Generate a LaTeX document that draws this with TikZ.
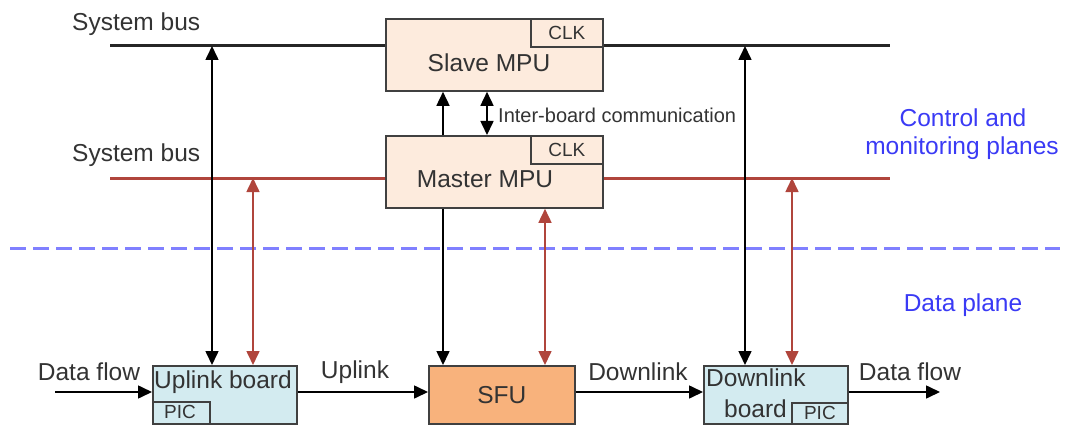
\documentclass[tikz,border=0pt]{standalone}
\usepackage{fontspec}
\setmainfont{Liberation Sans}
\usetikzlibrary{arrows.meta,calc}
\definecolor{txt}{HTML}{333333}
\definecolor{bord}{HTML}{404040}
\definecolor{peach}{HTML}{FDEBDD}
\definecolor{cyanb}{HTML}{D3EBF0}
\definecolor{sfuc}{HTML}{F8B27C}
\definecolor{busred}{HTML}{B0453C}
\definecolor{planeblue}{HTML}{3A3AF5}
\definecolor{dashblue}{HTML}{8080FF}
\begin{document}
\begin{tikzpicture}[x=1pt,y=-1pt,
  big/.style={font=\fontsize{24.5}{28}\selectfont, text=txt, inner sep=0pt},
  mid/.style={font=\fontsize{20}{23}\selectfont, text=txt, inner sep=0pt},
  small/.style={font=\fontsize{19}{22}\selectfont, text=txt, inner sep=0pt},
  bluetxt/.style={font=\fontsize{24.5}{28}\selectfont, text=planeblue, inner sep=0pt},
  box/.style={draw=bord, line width=1.8pt, inner sep=0pt, anchor=north west},
  onetip/.style={line width=1.6pt, -{Triangle[length=14pt,width=13pt]}},
  twotip/.style={line width=1.6pt, {Triangle[length=14pt,width=13pt]}-{Triangle[length=14pt,width=13pt]}},
  blackbus/.style={line width=3pt, draw=black!85},
  redbus/.style={line width=3pt, draw=busred},
]
\useasboundingbox (0,0) rectangle (1075,425);

% buses
\coordinate (tb1) at (110,46);
\coordinate (tb2) at (890,46);
\coordinate (rb1) at (110,178);
\coordinate (rb2) at (890,178);
\draw[blackbus] (tb1) -- (tb2);
\draw[redbus] (rb1) -- (rb2);
\node[big, anchor=west] (sb1) at (72,24) {System bus};
\node[big, anchor=west] (sb2) at (72,155) {System bus};

% dashed plane separator
\coordinate (d1) at (10,248);
\coordinate (d2) at (1060,248);
\draw[dashblue, line width=3pt, dash pattern=on 16pt off 7pt] (d1) -- (d2);
\node[bluetxt] (cp1) at (963,118) {Control and};
\node[bluetxt] (cp2) at (962,148) {monitoring planes};
\node[bluetxt] (dp) at (963,305) {Data plane};

% MPU boxes
\node[box, fill=peach, minimum width=217pt, minimum height=72pt] (slave) at (385,18) {};
\node[box, minimum width=72pt, minimum height=28pt, anchor=north east] (sclk) at (slave.north east) {};
\node[small] (sclkt) at (sclk.center) {CLK};
\node[big] (slavet) at (489,63) {Slave MPU};

\node[box, fill=peach, minimum width=217pt, minimum height=72pt] (master) at (385,135) {};
\node[box, minimum width=72pt, minimum height=28pt, anchor=north east] (mclk) at (master.north east) {};
\node[small] (mclkt) at (mclk.center) {CLK};
\node[big] (mastert) at (485,179) {Master MPU};

% bottom boxes
\node[box, fill=cyanb, minimum width=144pt, minimum height=58pt] (up) at (152,365) {};
\node[box, minimum width=57pt, minimum height=22pt, anchor=south west] (upic) at (up.south west) {};
\node[big] (upt) at (223,382) {Uplink board};
\node[small] (upict) at (180,412) {PIC};

\node[box, fill=sfuc, minimum width=146pt, minimum height=58pt] (sfu) at (428,365) {};
\node[big] (sfut) at (sfu.center) {SFU};

\node[box, fill=cyanb, minimum width=144pt, minimum height=58pt] (down) at (703,365) {};
\node[box, minimum width=56pt, minimum height=21pt, anchor=south east] (dpic) at (down.south east) {};
\node[big, anchor=west] (dt1) at (706,378) {Downlink};
\node[big, anchor=west] (dt2) at (724,409) {board};
\node[small] (dpict) at (dpic.center) {PIC};

% data flow arrows
\coordinate (in) at (55,392);
\coordinate (out) at (940,392);
\draw[onetip] (in) -- (in -| up.west);
\draw[onetip] (up.east |- 0,392) -- (sfu.west |- 0,392);
\draw[onetip] (sfu.east |- 0,392) -- (down.west |- 0,392);
\draw[onetip] (down.east |- 0,392) -- (out);
\node[big] (df1) at (89,372) {Data flow};
\node[big] (ul) at (355,372) {Uplink};
\node[big] (dl) at (638,372) {Downlink};
\node[big] (df2) at (910,372) {Data flow};

% vertical connectors
\coordinate (a1) at (212,46);
\draw[twotip] (a1 |- up.north) -- (a1);
\coordinate (a2) at (253,178);
\draw[twotip, draw=busred, color=busred] (a2 |- up.north) -- (a2);

\coordinate (a3) at (443,0);
\draw[onetip] (a3 |- master.north) -- (a3 |- slave.south);
\draw[onetip] (a3 |- master.south) -- (a3 |- sfu.north);
\coordinate (a4) at (487,0);
\draw[twotip] (a4 |- master.north) -- (a4 |- slave.south);
\node[mid, anchor=west] (ibc) at (498,115) {Inter-board communication};

\coordinate (a5) at (545,0);
\draw[twotip, color=busred] (a5 |- sfu.north) -- (a5 |- master.south);

\coordinate (a6) at (745,46);
\draw[twotip] (a6 |- down.north) -- (a6);
\coordinate (a7) at (792,178);
\draw[twotip, color=busred] (a7 |- down.north) -- (a7);
\end{tikzpicture}
\end{document}
